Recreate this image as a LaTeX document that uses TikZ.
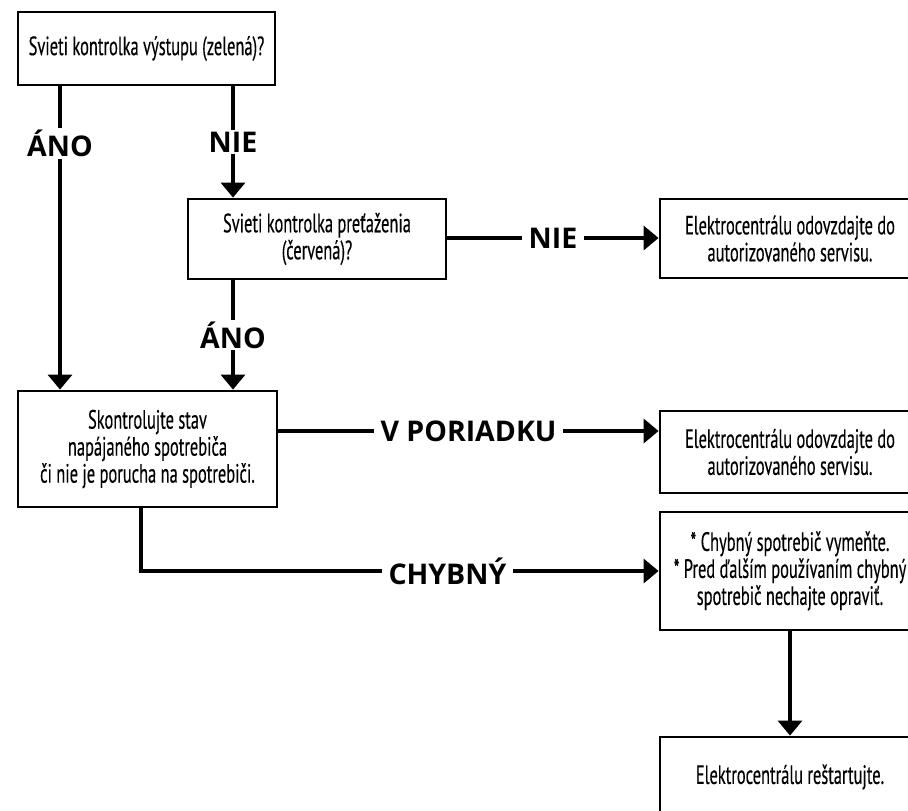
\documentclass[tikz,border=0pt]{standalone}
\usepackage{fontspec}
\setmainfont{PT Sans}
\newfontfamily\boxfont{PT Sans}[FakeStretch=0.62,FakeBold=0.3]
\newfontfamily\lblfont{Open Sans}
\usetikzlibrary{arrows.meta}
\begin{document}
\begin{tikzpicture}[x=1pt,y=-1pt,
  box/.style={draw=black, line width=2.8pt, fill=white, inner sep=0pt,
    align=center, font=\boxfont\fontsize{26.5}{27}\selectfont},
  conn/.style={line width=3.5pt, -{Triangle[width=24pt,length=15pt]}},
  lbl/.style={fill=white, inner xsep=7pt, inner ysep=2pt,
    font=\lblfont\bfseries\fontsize{28.5}{30}\selectfont}]
\useasboundingbox (0,0) rectangle (908,811);

% decision and action boxes
\node[box, minimum width=257pt, minimum height=73pt] (q1) at (146.5,48.5)
  {Svieti kontrolka výstupu (zelená)?};
\node[box, minimum width=258pt, minimum height=80pt] (q2) at (317,239)
  {Svieti kontrolka preťaženia\\(červená)?};
\node[box, minimum width=260pt, minimum height=79pt] (svc1) at (790,238.5)
  {Elektrocentrálu odovzdajte do\\autorizovaného servisu.};
\node[box, minimum width=259pt, minimum height=116pt] (chk) at (147.5,449)
  {Skontrolujte stav\\napájaného spotrebiča\\či nie je porucha na spotrebiči.};
\node[box, minimum width=260pt, minimum height=82pt] (svc2) at (790,452)
  {Elektrocentrálu odovzdajte do\\autorizovaného servisu.};
\node[box, minimum width=260pt, minimum height=118pt] (fix) at (790,571)
  {* Chybný spotrebič vymeňte.\\* Pred ďalším používaním chybný\\spotrebič nechajte opraviť.};
\node[box, minimum width=260pt, minimum height=80pt] (rst) at (790,777)
  {Elektrocentrálu reštartujte.};

% columns of the vertical connectors
\coordinate (colA) at (60,0);
\coordinate (colB) at (233,0);

% connectors
\draw[conn] (colA |- q1.south) -- (colA |- chk.north)
  node[lbl, pos=0.187] {ÁNO};
\draw[conn] (colB |- q1.south) -- (colB |- q2.north)
  node[lbl, pos=0.5] {NIE};
\draw[conn] (q2.east |- 0,238) -- (svc1.west |- 0,238)
  node[lbl, midway] {NIE};
\draw[conn] (colB |- q2.south) -- (colB |- chk.north)
  node[lbl, pos=0.5] {ÁNO};
\draw[conn] (chk.east |- 0,431) -- (svc2.west |- 0,431)
  node[lbl, midway] {V PORIADKU};
\draw[conn] ([xshift=-6.5pt]chk.south) |- (fix.west)
  node[lbl, pos=0.796] {CHYBNÝ};
\draw[conn] (fix.south) -- (rst.north);
\end{tikzpicture}
\end{document}
